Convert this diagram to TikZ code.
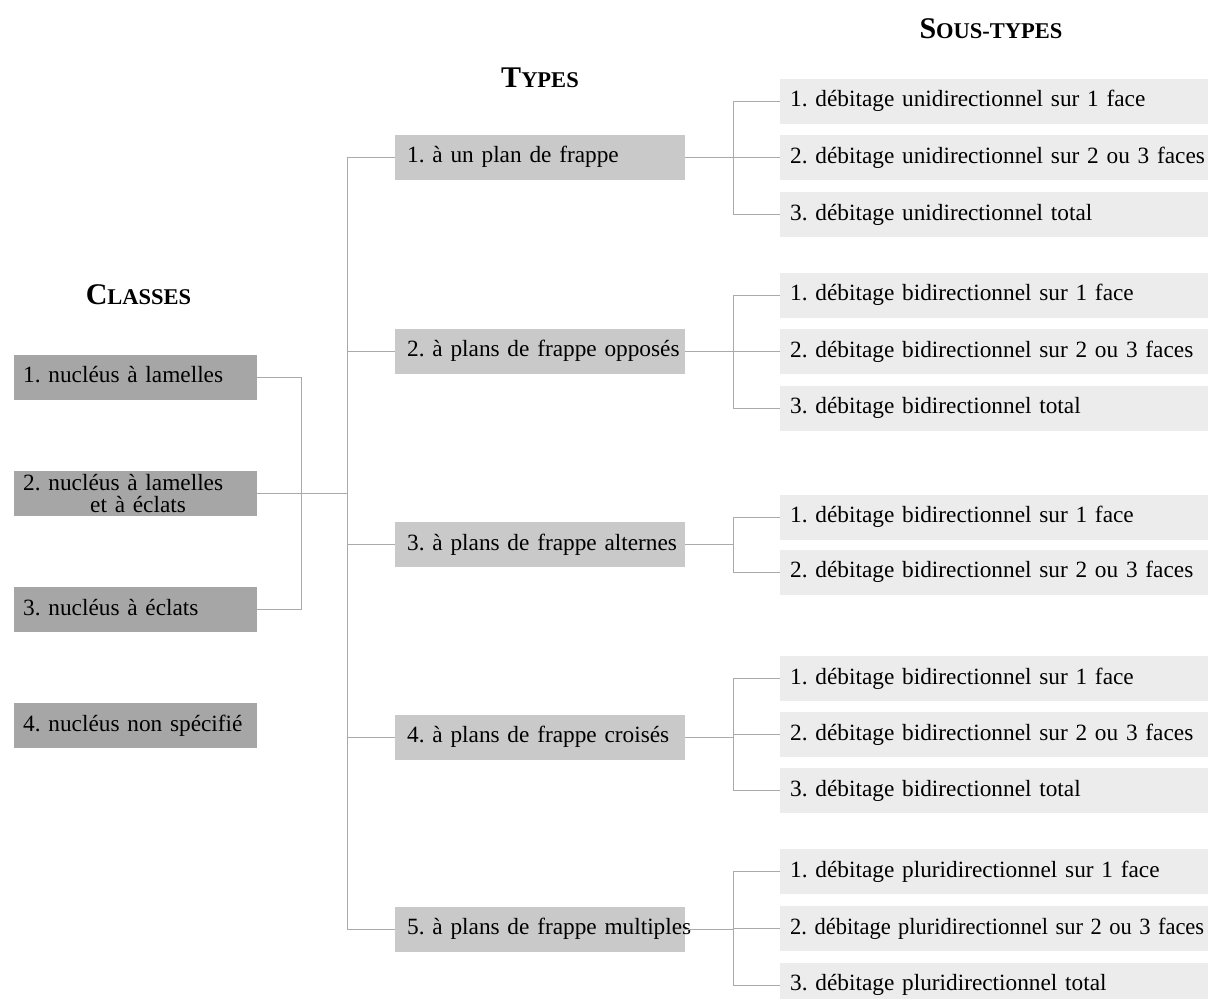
\documentclass[tikz,border=0pt]{standalone}
\usepackage{fontspec}
\setmainfont{Liberation Serif}[WordSpace=0.62]
\definecolor{classgray}{HTML}{A6A6A6}
\definecolor{typegray}{HTML}{C9C9C9}
\definecolor{subgray}{HTML}{ECECEC}
\definecolor{linegray}{HTML}{AAAAAA}
\newcommand\ttl[2]{{\bfseries\fontsize{30}{30}\selectfont #1\fontsize{22.5}{22}\selectfont #2}}
\tikzset{
  box/.style={anchor=west, minimum height=45pt, text height=16pt, text depth=5pt, align=left,
    font=\fontsize{23.3}{22}\selectfont\frenchspacing, inner ysep=0pt},
  classbox/.style={box, fill=classgray, inner xsep=9pt, text width=225pt},
  typebox/.style={box, fill=typegray, inner xsep=12pt, text width=266pt},
  subbox/.style={box, fill=subgray, inner xsep=10pt, text width=418pt},
  link/.style={draw=linegray, line width=1pt},
  title/.style={anchor=base, inner sep=0pt}
}
\begin{document}
\begin{tikzpicture}[x=1pt, y=-1pt]
\useasboundingbox (0,0) rectangle (1208,999);

% titles
\node[title] (hc) at (138.5,304) {\ttl{C}{LASSES}};
\node[title] (ht) at (540,87) {\ttl{T}{YPES}};
\node[title] (hs) at (991,38) {\ttl{S}{OUS-TYPES}};

% classes
\node[classbox] (c1) at (14,377) {\mbox{1. nucléus à lamelles}};
\node[classbox, text height=, text depth=] (c2) at (14,493.5) {\mbox{2. nucléus à lamelles}\\\hspace*{67pt}et à éclats};
\node[classbox] (c3) at (14,609.5) {\mbox{3. nucléus à éclats}};
\node[classbox] (c4) at (14,725.5) {\mbox{4. nucléus non spécifié}};

% types
\node[typebox] (t1) at (395,157) {\mbox{1. à un plan de frappe}};
\node[typebox] (t2) at (395,351) {\mbox{2. à plans de frappe opposés}};
\node[typebox] (t3) at (395,544.5) {\mbox{3. à plans de frappe alternes}};
\node[typebox] (t4) at (395,737) {\mbox{4. à plans de frappe croisés}};
\node[typebox] (t5) at (395,929) {\mbox{5. à plans de frappe multiples}};

% sub-types
\node[subbox] (s11) at (780,101) {\mbox{1. débitage unidirectionnel sur 1 face}};
\node[subbox] (s12) at (780,157.5) {\mbox{2. débitage unidirectionnel sur 2 ou 3 faces}};
\node[subbox] (s13) at (780,214.5) {\mbox{3. débitage unidirectionnel total}};

\node[subbox] (s21) at (780,295) {\mbox{1. débitage bidirectionnel sur 1 face}};
\node[subbox] (s22) at (780,351.5) {\mbox{2. débitage bidirectionnel sur 2 ou 3 faces}};
\node[subbox] (s23) at (780,408) {\mbox{3. débitage bidirectionnel total}};

\node[subbox] (s31) at (780,517) {\mbox{1. débitage bidirectionnel sur 1 face}};
\node[subbox] (s32) at (780,572) {\mbox{2. débitage bidirectionnel sur 2 ou 3 faces}};

\node[subbox] (s41) at (780,678.5) {\mbox{1. débitage bidirectionnel sur 1 face}};
\node[subbox] (s42) at (780,734.5) {\mbox{2. débitage bidirectionnel sur 2 ou 3 faces}};
\node[subbox] (s43) at (780,790.5) {\mbox{3. débitage bidirectionnel total}};

\node[subbox] (s51) at (780,871.5) {\mbox{1. débitage pluridirectionnel sur 1 face}};
\node[subbox] (s52) at (780,928.5) {\scalebox{0.965}[1]{2. débitage pluridirectionnel sur 2 ou 3 faces}};
\node[subbox] (s53) at (780,985) {\mbox{3. débitage pluridirectionnel total}};

% junction coordinates
\coordinate (cj) at (301,493.5);
\coordinate (mj) at (347,493.5);
\coordinate (g1) at (733,157);
\coordinate (g2) at (733,351);
\coordinate (g3) at (733,544.5);
\coordinate (g4) at (733,737);
\coordinate (g5) at (733,929);

% class connectors
\draw[link] (c1.east) -| (cj);
\draw[link] (c3.east) -| (cj);
\draw[link] (c2.east) -- (mj);

% main trunk
\draw[link] (t1.west) -| (mj);
\draw[link] (t5.west) -| (mj);
\draw[link] (t2.west) -- (t2.west -| mj);
\draw[link] (t3.west) -- (t3.west -| mj);
\draw[link] (t4.west) -- (t4.west -| mj);

% type -> sub-types
\draw[link] (t1.east) -- (g1);
\draw[link] (s11.west) -| (g1);
\draw[link] (s13.west) -| (g1);
\draw[link] (s12.west) -- (s12.west -| g1);

\draw[link] (t2.east) -- (g2);
\draw[link] (s21.west) -| (g2);
\draw[link] (s23.west) -| (g2);
\draw[link] (s22.west) -- (s22.west -| g2);

\draw[link] (t3.east) -- (g3);
\draw[link] (s31.west) -| (g3);
\draw[link] (s32.west) -| (g3);

\draw[link] (t4.east) -- (g4);
\draw[link] (s41.west) -| (g4);
\draw[link] (s43.west) -| (g4);
\draw[link] (s42.west) -- (s42.west -| g4);

\draw[link] (t5.east) -- (g5);
\draw[link] (s51.west) -| (g5);
\draw[link] (s53.west) -| (g5);
\draw[link] (s52.west) -- (s52.west -| g5);
\end{tikzpicture}
\end{document}
